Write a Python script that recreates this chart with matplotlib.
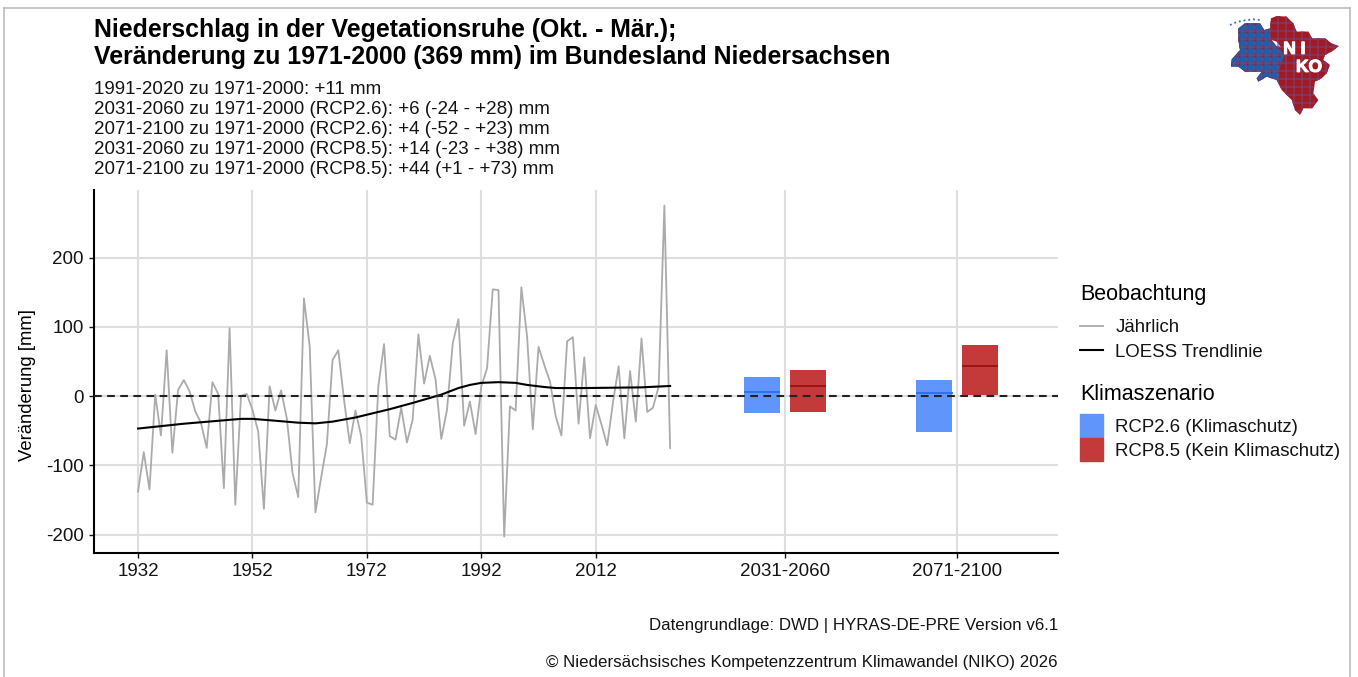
import matplotlib
matplotlib.use('Agg')
import matplotlib.pyplot as plt
import matplotlib.patheffects as pe
from matplotlib.lines import Line2D
from matplotlib.patches import Patch, Polygon

# Jaehrliche Abweichung [mm]
years = list(range(1932, 2026))
yearly = [
    -138, -81, -135, 2, -57, 66, -82, 9, 23, 7,
    -22, -39, -75, 20, 3, -133, 98, -157, 0, 3,
    -20, -51, -163, 14, -21, 8, -32, -111, -146, 141,
    72, -168, -118, -70, 52, 66, -5, -68, -21, -58,
    -154, -157, 14, 75, -58, -63, -17, -67, -34, 89,
    18, 58, 24, -62, -20, 76, 111, -43, -8, -55,
    14, 40, 154, 153, -203, -15, -21, 157, 86, -48,
    71, 45, 21, -29, -57, 79, 85, -40, 56, -61,
    -13, -41, -71, -10, 43, -61, 36, -37, 83, -23,
    -17, 14, 275, -75,
]

# LOESS Trendlinie
trend_years = [1932, 1940, 1950, 1952, 1955, 1960, 1963, 1966, 1970, 1972, 1975, 1976,
               1980, 1985, 1988, 1990, 1992, 1995, 1998, 2000, 2003, 2005, 2010, 2015,
               2020, 2025]
trend = [-47, -40, -33, -33, -35, -38.5, -39.5, -37, -31, -27, -21, -19,
         -10, 2, 11.5, 16, 19, 20, 19, 16, 13, 11.5, 11.5, 12,
         12.5, 14.5]

# Szenarien
scenario_x = [2045.1, 2075.2]
scenario_labels = ['2031-2060', '2071-2100']
rcp26_mid = [6, 4]
rcp26_low = [-24, -52]
rcp26_high = [28, 23]
rcp85_mid = [14, 44]
rcp85_low = [-23, 1]
rcp85_high = [38, 73]

year_ticks = [1932, 1952, 1972, 1992, 2012]
y_ticks = [-200, -100, 0, 100, 200]

subtitle_lines = [
    '1991-2020 zu 1971-2000: +11 mm',
    '2031-2060 zu 1971-2000 (RCP2.6): +6 (-24 - +28) mm',
    '2071-2100 zu 1971-2000 (RCP2.6): +4 (-52 - +23) mm',
    '2031-2060 zu 1971-2000 (RCP8.5): +14 (-23 - +38) mm',
    '2071-2100 zu 1971-2000 (RCP8.5): +44 (+1 - +73) mm',
]

# Logo: Umriss Niedersachsen (Logo-Koordinaten)
logo_outline = [(40, 55), (60, 40), (105, 40), (118, 60), (135, 55), (138, 25), (155, 18),
                (185, 20), (205, 40), (215, 65), (250, 65), (262, 85), (300, 85), (320, 100),
                (342, 108), (320, 125), (300, 135), (295, 150), (315, 165), (305, 190),
                (290, 205), (270, 215), (265, 250), (280, 270), (262, 295), (235, 295),
                (225, 315), (210, 300), (200, 270), (170, 240), (155, 210), (125, 200),
                (100, 215), (95, 205), (110, 185), (60, 185), (40, 170), (18, 170),
                (20, 148), (45, 120), (40, 90)]
logo_west = [(0, 0), (132, 0), (132, 62), (140, 95), (165, 115), (178, 140), (165, 170),
             (160, 240), (0, 240)]
logo_lake = [(140, 90), (155, 95), (168, 112), (155, 108)]
logo_coast_x = [15, 35, 60, 85, 105]
logo_coast_y = [45, 36, 31, 28, 30]
logo_grid = list(range(14, 360, 24))

W, H = 1358, 677
BLUE = '#6096fb'
RED = '#c43a3a'
TEXT = '#141414'

plt.rcParams['font.family'] = ['Liberation Sans', 'DejaVu Sans']
plt.rcParams['axes.unicode_minus'] = False
fig = plt.figure(figsize=(W / 100, H / 100), dpi=100)


def fx(px):
    return px / W


def fy(py):
    return 1 - py / H


# Rahmen (unten offen)
for xs, ys in [([4, 4], [677, 7.5]), ([4, 1350], [7.5, 7.5]), ([1350, 1350], [7.5, 677])]:
    fig.add_artist(Line2D([fx(v) for v in xs], [fy(v) for v in ys], color='#bdbdbd', lw=1.2))

ax = fig.add_axes([fx(94), fy(553), fx(1058 - 94), (553 - 190) / H])
ax.set_xlim(1924.3, 2092.8)
ax.set_ylim(-226.7, 297.5)

ax.grid(True, color='#dedede', lw=1.5)
ax.set_axisbelow(True)

ax.plot(years, yearly, color='#ababab', lw=1.3, zorder=3)
ax.plot(trend_years, trend, color='black', lw=1.5, zorder=4)

for i, x in enumerate(scenario_x):
    for offset, low, high, mid, face, dark in [
        (-4, rcp26_low[i], rcp26_high[i], rcp26_mid[i], BLUE, '#2f72ee'),
        (4, rcp85_low[i], rcp85_high[i], rcp85_mid[i], RED, '#9a1212'),
    ]:
        ax.bar(x + offset, high - low, bottom=low, width=6.3, color=face, zorder=5)
        ax.plot([x + offset - 3, x + offset + 3], [mid, mid], color=dark, lw=1.4, zorder=6)

ax.axhline(0, color='#222222', lw=1.5, dashes=(3.7, 2.6), zorder=7)

ax.set_xticks(year_ticks + scenario_x)
ax.set_xticklabels([str(y) for y in year_ticks] + scenario_labels)
ax.set_yticks(y_ticks)
ax.tick_params(labelsize=13.5, length=3.5, width=1, colors=TEXT, pad=3.8)
for side in ['top', 'right']:
    ax.spines[side].set_visible(False)
for side in ['left', 'bottom']:
    ax.spines[side].set_linewidth(1.5)
ax.set_ylabel('Veränderung [mm]', fontsize=13.3, y=0.463, labelpad=7)

# Titel und Untertitel
fig.text(fx(94), fy(36.7), 'Niederschlag in der Vegetationsruhe (Okt. - Mär.);',
         fontsize=17.95, fontweight='bold', va='baseline')
fig.text(fx(94), fy(64), 'Veränderung zu 1971-2000 (369 mm) im Bundesland Niedersachsen',
         fontsize=17.95, fontweight='bold', va='baseline')
for i, line in enumerate(subtitle_lines):
    fig.text(fx(94), fy(94 + i * 20), line, fontsize=13.5, va='baseline', color=TEXT)

# Quellen
fig.text(fx(1058), fy(630), 'Datengrundlage: DWD | HYRAS-DE-PRE Version v6.1',
         fontsize=12.2, ha='right', va='baseline', color=TEXT)
fig.text(fx(1058), fy(667), '© Niedersächsisches Kompetenzzentrum Klimawandel (NIKO) 2026',
         fontsize=12.2, ha='right', va='baseline', color=TEXT)

# Legenden
leg_obs = fig.legend(
    handles=[Line2D([], [], color='#ababab', lw=1.3), Line2D([], [], color='black', lw=1.5)],
    labels=['Jährlich', 'LOESS Trendlinie'], title='Beobachtung',
    loc='upper left', bbox_to_anchor=(fx(1080), fy(284)), frameon=False, alignment='left',
    fontsize=13.4, title_fontsize=15.5, handlelength=1.25, handletextpad=0.65,
    labelspacing=0.39, borderpad=0, borderaxespad=0, labelcolor=TEXT,
)
leg_obs._legend_box.sep = 10.3
leg_scen = fig.legend(
    handles=[Patch(color=BLUE), Patch(color=RED)],
    labels=['RCP2.6 (Klimaschutz)', 'RCP8.5 (Kein Klimaschutz)'], title='Klimaszenario',
    loc='upper left', bbox_to_anchor=(fx(1080), fy(384)), frameon=False, alignment='left',
    fontsize=13.4, title_fontsize=15.5, handlelength=1.25, handleheight=1.524,
    handletextpad=0.65, labelspacing=0.05, borderpad=0, borderaxespad=0, labelcolor=TEXT,
)
leg_scen._legend_box.sep = 6.8

# Logo
logo = fig.add_axes([fx(1225), fy(115), fx(120), 105 / H])
logo.set_xlim(0, 360)
logo.set_ylim(315, 0)
logo.axis('off')
shape = Polygon(logo_outline, closed=True, facecolor='#a3191f', edgecolor='none')
logo.add_patch(shape)
west = Polygon(logo_west, closed=True, facecolor='#1f5fa8', edgecolor='none')
logo.add_patch(west)
west.set_clip_path(shape)
for pos in logo_grid:
    v = logo.axvline(pos, color='#6a4a8e', lw=1.5, alpha=0.55)
    h = logo.axhline(pos, color='#6a4a8e', lw=1.5, alpha=0.55)
    v.set_clip_path(shape)
    h.set_clip_path(shape)
for gx in logo_grid:
    dots = logo.scatter([gx] * len(logo_grid), logo_grid, s=10, color='#a3191f', linewidths=0)
    dots.set_clip_path(shape)
logo.add_patch(Polygon(logo_lake, closed=True, facecolor='white', edgecolor='none'))
logo.plot(logo_coast_x, logo_coast_y, color='#3a6bb0', lw=1.3, ls=':')
halo = [pe.withStroke(linewidth=0.8, foreground='white')]
logo.text(208, 118, 'N I', color='white', fontsize=12.5, fontweight='bold', ha='center',
          va='center', path_effects=halo)
logo.text(252, 172, 'KO', color='white', fontsize=12.5, fontweight='bold', ha='center',
          va='center', path_effects=halo)

fig.savefig('out.png', dpi=100)
